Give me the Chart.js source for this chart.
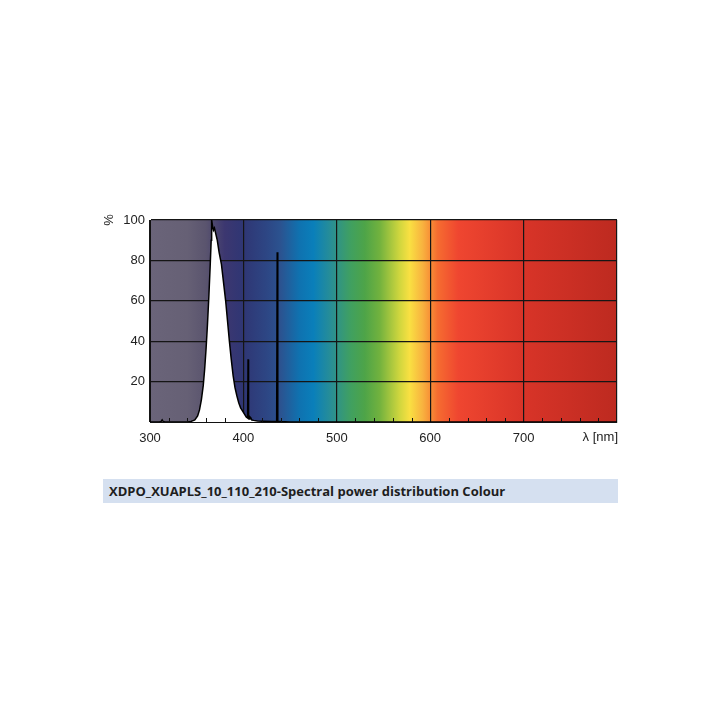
<!DOCTYPE html>
<html>
<head>
<meta charset="utf-8">
<script src="https://cdn.jsdelivr.net/npm/chart.js@4.4.0/dist/chart.umd.min.js"></script>
<style>
  body { margin: 0; background: #fff; width: 720px; height: 720px; position: relative; }
  #wrap { position: absolute; left: 0; top: 200px; width: 720px; height: 252px; }
  #caption {
    position: absolute; left: 103px; top: 479px; width: 505px; height: 24px;
    background: #d5e0f0; padding-left: 6px; padding-right: 4px;
    font: bold 13px "Open Sans", "Noto Sans", sans-serif; color: #1e1e1e;
    line-height: 24px; white-space: nowrap;
  }
</style>
</head>
<body>
<div id="wrap"><canvas id="chart"></canvas></div>
<div id="caption">XDPO_XUAPLS_10_110_210-Spectral power distribution Colour</div>
<script>
// spectrum (nm, %)
const wavelengths = [300, 310, 312, 313, 314, 316, 340, 344, 348, 351, 353, 355, 357, 358.5, 360, 361.5, 363, 364.5, 365.5, 366, 367, 368, 369, 370, 372, 374, 376.5, 379, 381, 383, 385, 387, 389, 391, 393, 395, 397, 399, 401, 403, 404.5, 405, 405.5, 406, 407, 408, 409, 411, 415, 420, 430, 435.6, 436.2, 436.8, 440, 450, 800];
const intensity   = [0,   0,   0.3, 1,   0.3, 0,   0,   0.3, 1,   3,   6,   11,  18,  26,    36,  48,    62,  78,    90,    100, 97,  95,  96,  94,  90,  84,  78,    68,  60,  50,  40,  31,  23,  17,  13,  9.5, 7,   5.5, 4,   2.5, 2,     31,  2,     1.5, 2.5, 2,   1,   0.8, 0.5, 0.4, 0.3, 0.3,   84,    0.4,   0.2, 0,   0];
const yTicks = [20, 40, 60, 80, 100];
const xTicks = [300, 400, 500, 600, 700, 800];

// visible spectrum colours behind the plot (nm, colour)
const bandNm     = [300, 340, 360, 380, 400, 425, 440, 460, 475, 495, 515, 530, 546, 567, 578, 592, 600, 608, 630, 700, 800];
const bandColour = ['#6a6479', '#666075', '#5a546e', '#3c3770', '#2f3674', '#2d4684', '#2b5390', '#0f72b0', '#0a7fba', '#2a8f93', '#40a060', '#4ea448', '#72b23e', '#cfd63e', '#f9e042', '#f8b23f', '#f89036', '#f66c30', '#ef4630', '#d83428', '#bd2a20'];

const spectrumBg = {
  id: 'spectrumBg',
  beforeDraw(chart) {
    const { ctx, chartArea: a } = chart;
    const g = ctx.createLinearGradient(a.left, 0, a.right, 0);
    bandNm.forEach((nm, i) => g.addColorStop((nm - 300) / 500, bandColour[i]));
    ctx.save();
    ctx.fillStyle = g;
    ctx.fillRect(a.left, a.top, a.right - a.left, a.bottom - a.top);
    ctx.restore();
  },
  afterDraw(chart) {
    const { ctx, chartArea: a, scales: { x } } = chart;
    ctx.save();
    // minor ticks every 20 nm
    ctx.strokeStyle = '#111';
    ctx.lineWidth = 1;
    for (let nm = 320; nm < 800; nm += 20) {
      if (nm % 100 === 0) continue;
      const px = Math.round(x.getPixelForValue(nm)) + 0.5;
      ctx.beginPath();
      ctx.moveTo(px, a.bottom);
      ctx.lineTo(px, a.bottom - 4);
      ctx.stroke();
    }
    ctx.fillStyle = '#222';
    ctx.font = '13px "Liberation Sans", Arial, sans-serif';
    ctx.textAlign = 'right';
    ctx.textBaseline = 'middle';
    ctx.fillText('λ [nm]', a.right + 1, a.bottom + 15);
    ctx.translate(109, a.top);
    ctx.rotate(-Math.PI / 2);
    ctx.textAlign = 'center';
    ctx.fillText('%', 0, 0);
    ctx.restore();
  }
};

new Chart(document.getElementById('chart'), {
  type: 'line',
  data: {
    datasets: [{
      data: wavelengths.map((nm, i) => ({ x: nm, y: intensity[i] })),
      borderColor: '#000',
      borderWidth: 1.5,
      backgroundColor: '#fff',
      fill: 'origin',
      pointRadius: 0,
      tension: 0
    }]
  },
  options: {
    responsive: true,
    maintainAspectRatio: false,
    animation: false,
    layout: { padding: { left: 100, right: 103, top: 20, bottom: 0 } },
    plugins: { legend: { display: false }, tooltip: { enabled: false } },
    scales: {
      x: {
        type: 'linear', min: 300, max: 800,
        afterBuildTicks: s => { s.ticks = xTicks.map(v => ({ value: v })); },
        afterFit: s => { s.height = 30; },
        ticks: {
          color: '#222', padding: 9, maxRotation: 0,
          font: { family: '"Liberation Sans", Arial, sans-serif', size: 13 },
          callback: v => (v === 800 ? '' : v)
        },
        grid: { color: '#151515', lineWidth: 1.2, drawTicks: false },
        border: { color: '#111', width: 1 }
      },
      y: {
        min: 0, max: 100,
        afterBuildTicks: s => { s.ticks = yTicks.map(v => ({ value: v })); },
        afterFit: s => { s.width = 50; },
        ticks: {
          color: '#222', padding: 5,
          font: { family: '"Liberation Sans", Arial, sans-serif', size: 13 }
        },
        grid: { color: '#151515', lineWidth: 1.2, drawTicks: false },
        border: { color: '#111', width: 1 }
      }
    }
  },
  plugins: [spectrumBg]
});
</script>
</body>
</html>
